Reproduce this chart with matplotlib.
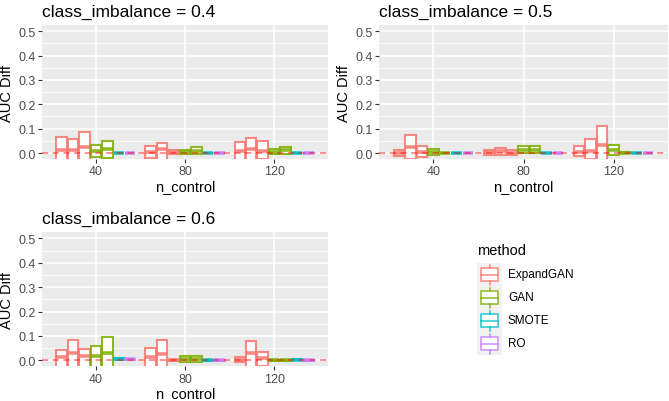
import matplotlib
matplotlib.use('Agg')
import matplotlib.pyplot as plt
from matplotlib.patches import Rectangle
from matplotlib.colors import to_rgba

plt.rcParams['font.family'] = ['Liberation Sans', 'DejaVu Sans']

methods = ['ExpandGAN', 'GAN', 'SMOTE', 'RO']
colors = ['#F8766D', '#7CAE00', '#00BFC4', '#C77CFF']
# each n_control group holds 7 boxes: 3 ExpandGAN, 2 GAN, 1 SMOTE, 1 RO
box_method = [0, 0, 0, 1, 1, 2, 3]
n_control = [40, 80, 120]
imbalances = [0.4, 0.5, 0.6]

# rows = n_control (40, 80, 120), columns = the 7 boxes
q3_04 = [[0.066, 0.059, 0.088, 0.034, 0.050, 0.001, 0.001],
         [0.027, 0.043, 0.012, 0.014, 0.023, 0.001, 0.001],
         [0.046, 0.063, 0.050, 0.015, 0.026, 0.001, 0.001]]
med_04 = [[0.012, 0.012, 0.025, 0.010, 0.017, 0.0, 0.0],
          [0.003, 0.017, 0.003, 0.005, 0.010, 0.0, 0.0],
          [0.008, 0.016, 0.010, 0.005, 0.012, 0.0, 0.0]]
q1_04 = [[-0.05, -0.05, -0.05, -0.018, -0.020, -0.001, -0.001],
         [-0.020, -0.05, -0.005, -0.004, -0.004, -0.001, -0.001],
         [-0.05, -0.05, -0.025, -0.004, -0.004, -0.001, -0.001]]

q3_05 = [[0.013, 0.074, 0.030, 0.016, 0.002, 0.001, 0.001],
         [0.013, 0.021, 0.013, 0.030, 0.030, 0.001, 0.001],
         [0.027, 0.058, 0.110, 0.034, 0.003, 0.001, 0.001]]
med_05 = [[0.0, 0.026, 0.005, 0.005, 0.0, 0.0, 0.0],
          [0.003, 0.007, 0.0, 0.014, 0.014, 0.0, 0.0],
          [0.005, 0.010, 0.034, 0.014, 0.0, 0.0, 0.0]]
q1_05 = [[-0.011, -0.025, -0.018, -0.008, -0.001, -0.001, -0.001],
         [-0.008, -0.008, -0.008, 0.0, 0.0, -0.001, -0.001],
         [-0.011, -0.025, -0.05, -0.008, -0.001, -0.001, -0.001]]

q3_06 = [[0.044, 0.085, 0.047, 0.058, 0.096, 0.008, 0.007],
         [0.050, 0.084, 0.002, 0.016, 0.016, 0.002, 0.002],
         [0.014, 0.081, 0.036, 0.002, 0.002, 0.005, 0.002]]
med_06 = [[0.014, 0.030, 0.016, 0.016, 0.030, 0.004, 0.004],
          [0.014, 0.027, 0.0, 0.004, 0.004, 0.0, 0.0],
          [0.003, 0.029, 0.010, 0.0, 0.0, 0.002, 0.0]]
q1_06 = [[-0.05, -0.05, -0.05, -0.05, -0.05, 0.0, 0.0],
         [-0.05, -0.05, -0.003, -0.008, -0.008, -0.002, -0.002],
         [-0.008, -0.05, -0.022, -0.002, -0.002, 0.0, -0.002]]

panels = [(q1_04, med_04, q3_04), (q1_05, med_05, q3_05), (q1_06, med_06, q3_06)]

W, H = 669, 402
fig = plt.figure(figsize=(W / 100, H / 100), dpi=100)

# panel rectangles in pixels: left, right, top, bottom
rects = [(42, 328, 26.2, 160.1), (379, 668, 26.2, 160.1), (42, 328, 233.2, 367.4)]

dodge = 36.0
slot = dodge / 7
bw = slot * 0.9

for (q1s, meds, q3s), ci, (l, r, t, b) in zip(panels, imbalances, rects):
    ax = fig.add_axes([l / W, 1 - b / H, (r - l) / W, (b - t) / H])
    ax.set_facecolor('#EBEBEB')
    for s in ax.spines.values():
        s.set_visible(False)
    ax.set_xlim(15.8, 144.2)
    ax.set_ylim(-0.025, 0.525)
    ax.set_xticks(n_control)
    ax.set_yticks([0, 0.1, 0.2, 0.3, 0.4, 0.5])
    ax.set_yticks([0.05, 0.15, 0.25, 0.35, 0.45], minor=True)
    ax.set_yticklabels(['0.0', '0.1', '0.2', '0.3', '0.4', '0.5'])
    ax.grid(True, which='major', color='white', lw=1.1)
    ax.grid(True, which='minor', axis='y', color='white', lw=0.55)
    ax.set_axisbelow(True)
    ax.tick_params(which='major', length=3, width=0.8, color='#333333',
                   labelsize=9, labelcolor='#4D4D4D', pad=1.5)
    ax.tick_params(which='minor', length=0)

    stats, pos, cols = [], [], []
    for gi, g in enumerate(n_control):
        for k in range(7):
            stats.append({'q1': q1s[gi][k], 'med': meds[gi][k], 'q3': q3s[gi][k],
                          'whislo': q1s[gi][k], 'whishi': q3s[gi][k], 'fliers': []})
            pos.append(g + (k - 3) * slot)
            cols.append(colors[box_method[k]])
    res = ax.bxp(stats, positions=pos, widths=bw, patch_artist=True,
                 showcaps=False, showfliers=False, manage_ticks=False)
    for i, c in enumerate(cols):
        res['boxes'][i].set_facecolor('white')
        res['boxes'][i].set_edgecolor(to_rgba(c, 0.85))
        res['boxes'][i].set_linewidth(1.5)
        res['medians'][i].set_color(to_rgba(c, 0.85))
        res['medians'][i].set_linewidth(2.6)
        res['medians'][i].set_solid_capstyle('butt')
    for wl in res['whiskers']:
        wl.set_visible(False)

    ax.axhline(0, color='red', alpha=0.55, lw=1.1, ls=(0, (4, 3)), zorder=5)
    ax.set_xlabel('n_control', fontsize=10.5, labelpad=1)
    ax.set_ylabel('AUC Diff', fontsize=10.5, labelpad=3)
    ax.set_title(f'class_imbalance = {ci}', loc='left', fontsize=12.5, pad=7)

# legend
lax = fig.add_axes([0, 0, 1, 1])
lax.set_xlim(0, W)
lax.set_ylim(H, 0)
lax.axis('off')
lax.text(477, 251, 'method', fontsize=10.5, va='center', ha='left')
key_top = 264
key_h = 23
lax.add_patch(Rectangle((477, key_top), 25, key_h * len(methods),
                        facecolor='#F2F2F2', edgecolor='none'))
for i, (m, c) in enumerate(zip(methods, colors)):
    cy = key_top + key_h * i + key_h / 2
    ec = to_rgba(c, 0.85)
    lax.plot([489.5, 489.5], [cy - 10, cy - 6.5], color=ec, lw=1.1)
    lax.plot([489.5, 489.5], [cy + 6.5, cy + 10], color=ec, lw=1.1)
    lax.add_patch(Rectangle((481, cy - 6.5), 17, 13, facecolor='white',
                            edgecolor=ec, lw=1.1))
    lax.plot([481, 498], [cy, cy], color=ec, lw=1.1)
    lax.text(508, cy, m, fontsize=8.5, va='center', ha='left')

fig.savefig('out.png', dpi=100)
